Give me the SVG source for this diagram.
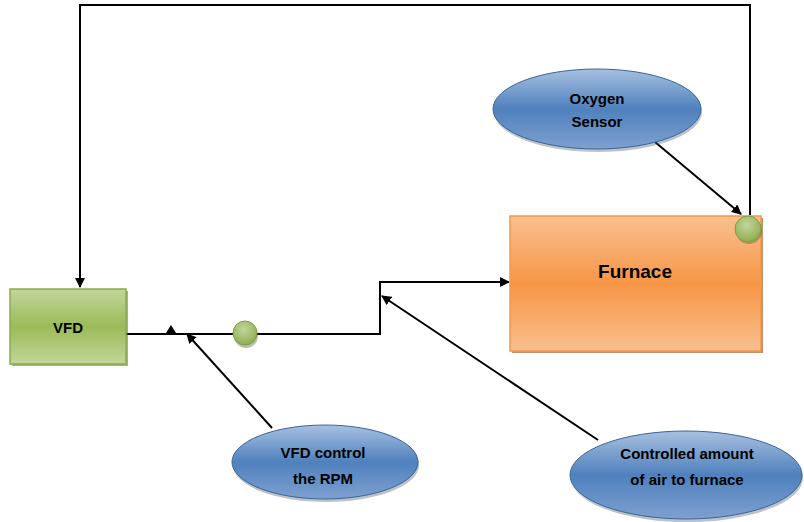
<svg xmlns="http://www.w3.org/2000/svg" width="804" height="522" viewBox="0 0 804 522">
<style>
.lbl{font-family:"Liberation Sans",Arial,sans-serif;font-weight:bold;font-size:15px;fill:#000;text-anchor:middle}
.conn{stroke:#000;stroke-width:2;fill:none}
.ell{fill:url(#blue);stroke:#3a6596;stroke-width:1}
.shadow{fill:#3d4f66;opacity:0.35}
.dot{fill:url(#green);stroke:#7f9c4a;stroke-width:1}
</style>
<defs>
<marker id="arr" viewBox="0 0 10 10" refX="9" refY="5" markerWidth="5" markerHeight="5" orient="auto" markerUnits="strokeWidth">
<path d="M0,0 L10,5 L0,10 z" fill="#000"/>
</marker>
<linearGradient id="blue" x1="0" y1="0" x2="0" y2="1">
<stop offset="0" stop-color="#a7c0e0"/>
<stop offset="0.5" stop-color="#4f81bd"/>
<stop offset="1" stop-color="#7ea0cf"/>
</linearGradient>
<linearGradient id="orange" x1="0" y1="0" x2="0" y2="1">
<stop offset="0" stop-color="#fac090"/>
<stop offset="0.5" stop-color="#f79646"/>
<stop offset="1" stop-color="#fac090"/>
</linearGradient>
<linearGradient id="greenbox" x1="0" y1="0" x2="0" y2="1">
<stop offset="0" stop-color="#c3d69b"/>
<stop offset="0.5" stop-color="#9bbb59"/>
<stop offset="1" stop-color="#c3d69b"/>
</linearGradient>
<radialGradient id="green" cx="0.45" cy="0.35" r="0.7">
<stop offset="0" stop-color="#c3d69b"/>
<stop offset="1" stop-color="#8aab4a"/>
</radialGradient>
</defs>

<g id="connectors">
<polyline class="conn" points="750,215 750,5 80,5 80,287" marker-end="url(#arr)"/>
<polyline class="conn" points="126,334 380,334 380,282 509,282" marker-end="url(#arr)"/>
<line class="conn" x1="655" y1="142" x2="741" y2="214" marker-end="url(#arr)"/>
<line class="conn" x1="272" y1="428" x2="187" y2="334" marker-end="url(#arr)"/>
<line class="conn" x1="598" y1="440" x2="382" y2="296" marker-end="url(#arr)"/>
<path d="M166,333 L176,333 L171,325 z" fill="#000"/>
</g>

<g id="vfd">
<rect x="12" y="291" width="116" height="75" fill="#4e6128" opacity="0.5"/>
<rect x="10" y="289" width="116" height="75" fill="url(#greenbox)" stroke="#8aab4a" stroke-width="1.5"/>
<text class="lbl" x="68" y="333">VFD</text>
</g>

<g id="furnace">
<rect x="512" y="218" width="251" height="135" fill="#984807" opacity="0.6"/>
<rect x="510" y="216" width="251" height="135" fill="url(#orange)" stroke="#f79646" stroke-width="1.5"/>
<text class="lbl" x="635" y="278" style="font-size:19px">Furnace</text>
</g>

<g id="oxygen-sensor">
<ellipse class="shadow" cx="598" cy="112" rx="104" ry="40"/>
<ellipse class="ell" cx="597" cy="109" rx="104" ry="40"/>
<text class="lbl" x="597" y="104">Oxygen</text>
<text class="lbl" x="597" y="127">Sensor</text>
</g>

<g id="vfd-control">
<ellipse class="shadow" cx="326" cy="465" rx="93" ry="37"/>
<ellipse class="ell" cx="325" cy="462" rx="93" ry="37"/>
<text class="lbl" x="323" y="458">VFD control</text>
<text class="lbl" x="323" y="484">the RPM</text>
</g>

<g id="controlled-air">
<ellipse class="shadow" cx="687" cy="478" rx="116" ry="44"/>
<ellipse class="ell" cx="686" cy="475" rx="116" ry="44"/>
<text class="lbl" x="687" y="459">Controlled amount</text>
<text class="lbl" x="687" y="485">of air to furnace</text>
</g>

<g id="dot-line">
<circle cx="246" cy="336" r="12" fill="#4e6128" opacity="0.4"/>
<circle class="dot" cx="245" cy="333" r="12"/>
</g>

<g id="dot-furnace">
<circle cx="749" cy="231" r="13" fill="#4e6128" opacity="0.4"/>
<circle class="dot" cx="748" cy="229" r="13"/>
</g>
</svg>
